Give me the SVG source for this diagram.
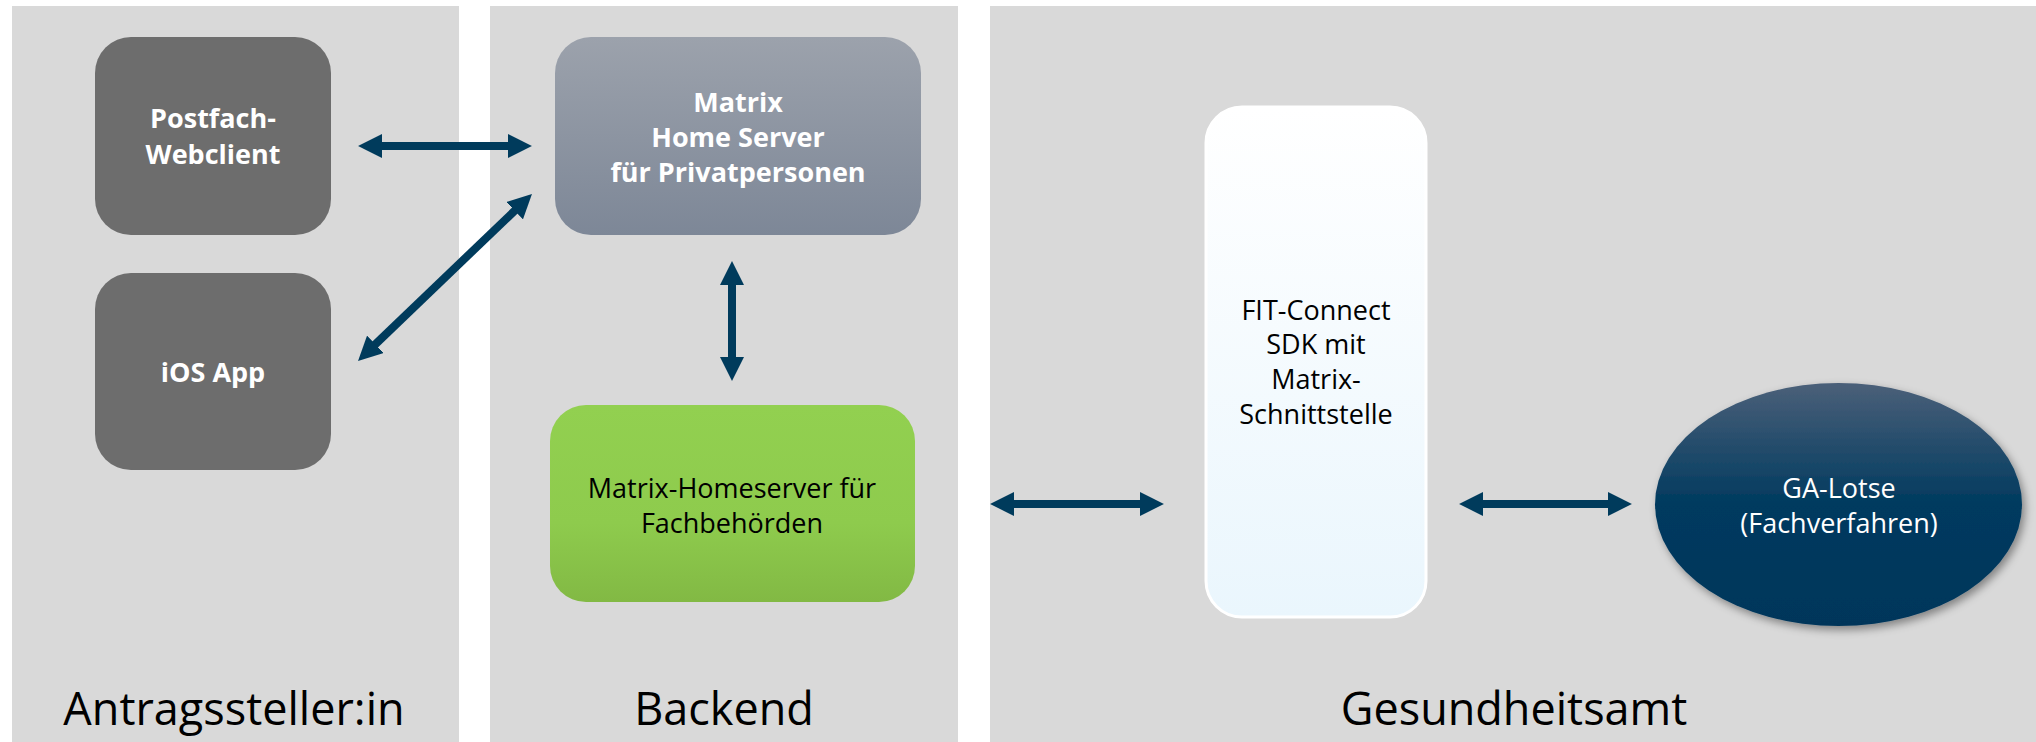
<svg xmlns="http://www.w3.org/2000/svg" width="2036" height="742" viewBox="0 0 2036 742">
<defs>
<linearGradient id="gMatrix" x1="0" y1="0" x2="0" y2="1"><stop offset="0" stop-color="#9ca2ac"/><stop offset="1" stop-color="#7d8797"/></linearGradient>
<linearGradient id="gGreen" x1="0" y1="0" x2="0" y2="1"><stop offset="0" stop-color="#92d050"/><stop offset="0.6" stop-color="#8ecb4d"/><stop offset="1" stop-color="#82b944"/></linearGradient>
<linearGradient id="gFit" x1="0" y1="0" x2="0" y2="1"><stop offset="0" stop-color="#ffffff"/><stop offset="1" stop-color="#eaf6fd"/></linearGradient>
<linearGradient id="gGA" x1="0" y1="0" x2="0" y2="1"><stop offset="0" stop-color="#4b6079"/><stop offset="0.5" stop-color="#003a5f"/><stop offset="1" stop-color="#00365a"/></linearGradient>
<filter id="shadow" x="-20%" y="-20%" width="140%" height="140%"><feDropShadow dx="3" dy="4" stdDeviation="4" flood-color="#000" flood-opacity="0.4"/></filter>
<marker id="ah" markerUnits="userSpaceOnUse" markerWidth="24" markerHeight="24" viewBox="0 0 23 23" refX="1" refY="11.5" orient="auto-start-reverse"><path d="M0,0 L23,11.5 L0,23 z" fill="#003b5c"/></marker>
<style>
.panel{fill:#d9d9d9}
.dark{fill:#6d6d6d}
.bw{font-family:"Open Sans","Noto Sans",sans-serif;font-weight:700;font-size:27px;fill:#ffffff;text-anchor:middle}
.rt{font-family:"Open Sans","Noto Sans",sans-serif;font-weight:400;font-size:27px;text-anchor:middle}
.lbl{font-family:"Open Sans","Noto Sans",sans-serif;font-weight:400;font-size:45px;fill:#000;text-anchor:middle}
.conn line{stroke:#003b5c;stroke-width:8;marker-start:url(#ah);marker-end:url(#ah)}
</style>
</defs>
<rect width="2036" height="742" fill="#ffffff"/>
<g id="panels">
<rect class="panel" x="12" y="6" width="447" height="736"/>
<rect class="panel" x="490" y="6" width="468" height="736"/>
<rect class="panel" x="990" y="6" width="1046" height="736"/>
<text class="lbl" x="234" y="725">Antragssteller:in</text>
<text class="lbl" x="724" y="725">Backend</text>
<text class="lbl" x="1514" y="725">Gesundheitsamt</text>
</g>
<g id="postfach">
<rect class="dark" x="95" y="37" width="236" height="198" rx="36" ry="36"/>
<text class="bw" x="213" y="128">Postfach-</text>
<text class="bw" x="213" y="164">Webclient</text>
</g>
<g id="ios">
<rect class="dark" x="95" y="273" width="236" height="197" rx="36" ry="36"/>
<text class="bw" x="213" y="382">iOS App</text>
</g>
<g id="matrix-hs">
<rect x="555" y="37" width="366" height="198" rx="36" ry="36" fill="url(#gMatrix)"/>
<text class="bw" x="738" y="112">Matrix</text>
<text class="bw" x="738" y="147">Home Server</text>
<text class="bw" x="738" y="182">für Privatpersonen</text>
</g>
<g id="matrix-fach">
<rect x="550" y="405" width="365" height="197" rx="36" ry="36" fill="url(#gGreen)"/>
<text class="rt" x="732" y="498">Matrix-Homeserver für</text>
<text class="rt" x="732" y="533">Fachbehörden</text>
</g>
<g id="fitconnect">
<rect x="1206" y="107" width="220" height="510" rx="36" ry="36" fill="url(#gFit)" stroke="#ffffff" stroke-width="3"/>
<text class="rt" x="1316" y="320">FIT-Connect</text>
<text class="rt" x="1316" y="354">SDK mit</text>
<text class="rt" x="1316" y="389">Matrix-</text>
<text class="rt" x="1316" y="424">Schnittstelle</text>
</g>
<g id="galotse">
<ellipse cx="1838.5" cy="504.5" rx="183.5" ry="121.5" fill="url(#gGA)" filter="url(#shadow)"/>
<text class="rt" x="1839" y="498" fill="#ffffff">GA-Lotse</text>
<text class="rt" x="1839" y="533" fill="#ffffff">(Fachverfahren)</text>
</g>
<g id="connectors" class="conn">
<line x1="381" y1="146" x2="509" y2="146"/>
<line x1="515.4" y1="210" x2="374.6" y2="345"/>
<line x1="732" y1="284" x2="732" y2="358"/>
<line x1="1013" y1="504" x2="1141" y2="504"/>
<line x1="1482" y1="504" x2="1609" y2="504"/>
</g>
</svg>
